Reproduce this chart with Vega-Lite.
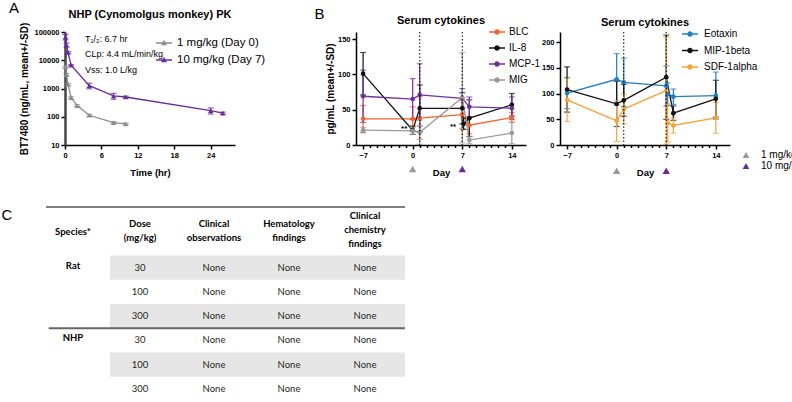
{
 "$schema": "https://vega.github.io/schema/vega-lite/v6.json",
 "background": "#ffffff",
 "padding": {"left": 1, "top": 1, "right": 2, "bottom": 0},
 "config": {
  "font": "Liberation Sans",
  "view": {"stroke": null},
  "axis": {"grid": false, "domainColor": "#000000", "domainWidth": 1.5, "tickColor": "#000000", "tickWidth": 1.5, "tickSize": 4, "labelFontWeight": "bold", "labelFontSize": 7.5, "labelColor": "#000000", "labelPadding": 2, "labelFlush": false, "labelOverlap": false, "labelBound": false, "titleFontWeight": "bold", "titleColor": "#000000"},
  "axisX": {"titleFontSize": 9.5, "titlePadding": 9},
  "axisY": {"titleFontSize": 10, "titlePadding": 2},
  "title": {"fontSize": 11, "fontWeight": "bold", "color": "#000000"},
  "legend": {"labelFontSize": 10, "labelColor": "#000000", "symbolOpacity": 1, "padding": 0}
 },
 "datasets": {
  "pk": [
   {"dose": "1 mg/kg (Day 0)", "t": 0.083, "c": 5860, "sd": 500},
   {"dose": "1 mg/kg (Day 0)", "t": 0.25, "c": 3130, "sd": 300},
   {"dose": "1 mg/kg (Day 0)", "t": 0.5, "c": 1390, "sd": 120},
   {"dose": "1 mg/kg (Day 0)", "t": 1, "c": 474, "sd": 40},
   {"dose": "1 mg/kg (Day 0)", "t": 2, "c": 248, "sd": 20},
   {"dose": "1 mg/kg (Day 0)", "t": 4, "c": 113, "sd": 10},
   {"dose": "1 mg/kg (Day 0)", "t": 8, "c": 62, "sd": 5},
   {"dose": "1 mg/kg (Day 0)", "t": 10, "c": 56, "sd": 4},
   {"dose": "10 mg/kg (Day 7)", "t": 0.083, "c": 66700, "sd": 14000},
   {"dose": "10 mg/kg (Day 7)", "t": 0.25, "c": 35000, "sd": 6000},
   {"dose": "10 mg/kg (Day 7)", "t": 0.5, "c": 18700, "sd": 1500},
   {"dose": "10 mg/kg (Day 7)", "t": 1, "c": 6670, "sd": 400},
   {"dose": "10 mg/kg (Day 7)", "t": 4, "c": 1256, "sd": 280},
   {"dose": "10 mg/kg (Day 7)", "t": 8, "c": 545, "sd": 130},
   {"dose": "10 mg/kg (Day 7)", "t": 10, "c": 500, "sd": 40},
   {"dose": "10 mg/kg (Day 7)", "t": 24, "c": 165, "sd": 40},
   {"dose": "10 mg/kg (Day 7)", "t": 26, "c": 134, "sd": 12}
  ],
  "cyto1": [
   {"cyto": "BLC", "day": -7, "mean": 37, "sd": 19},
   {"cyto": "BLC", "day": 0, "mean": 37, "sd": 17},
   {"cyto": "BLC", "day": 1, "mean": 38, "sd": 30},
   {"cyto": "BLC", "day": 7, "mean": 43, "sd": 20},
   {"cyto": "BLC", "day": 8, "mean": 28, "sd": 12},
   {"cyto": "BLC", "day": 14, "mean": 39, "sd": 7},
   {"cyto": "IL-8", "day": -7, "mean": 101, "sd": 30},
   {"cyto": "IL-8", "day": 0, "mean": 21, "sd": 6},
   {"cyto": "IL-8", "day": 1, "mean": 52, "sd": 33},
   {"cyto": "IL-8", "day": 7, "mean": 52, "sd": 22},
   {"cyto": "IL-8", "day": 7.2, "mean": 30, "sd": 8},
   {"cyto": "IL-8", "day": 8, "mean": 38, "sd": 26},
   {"cyto": "IL-8", "day": 14, "mean": 57, "sd": 16},
   {"cyto": "MCP-1", "day": -7, "mean": 69, "sd": 37},
   {"cyto": "MCP-1", "day": 0, "mean": 65, "sd": 29},
   {"cyto": "MCP-1", "day": 1, "mean": 71, "sd": 44},
   {"cyto": "MCP-1", "day": 7, "mean": 66, "sd": 14},
   {"cyto": "MCP-1", "day": 8, "mean": 54, "sd": 14},
   {"cyto": "MCP-1", "day": 14, "mean": 52, "sd": 16},
   {"cyto": "MIG", "day": -7, "mean": 21, "sd": 4},
   {"cyto": "MIG", "day": 0, "mean": 20, "sd": 5},
   {"cyto": "MIG", "day": 1, "mean": 18, "sd": 17},
   {"cyto": "MIG", "day": 7, "mean": 67, "sd": 64},
   {"cyto": "MIG", "day": 8, "mean": 7, "sd": 5},
   {"cyto": "MIG", "day": 14, "mean": 17, "sd": 15}
  ],
  "cyto2": [
   {"cyto": "Eotaxin", "day": -7, "mean": 101, "sd": 30},
   {"cyto": "Eotaxin", "day": 0, "mean": 128, "sd": 50},
   {"cyto": "Eotaxin", "day": 1, "mean": 122, "sd": 47},
   {"cyto": "Eotaxin", "day": 7, "mean": 115, "sd": 39},
   {"cyto": "Eotaxin", "day": 7.2, "mean": 99, "sd": 22},
   {"cyto": "Eotaxin", "day": 8, "mean": 94, "sd": 15},
   {"cyto": "Eotaxin", "day": 14, "mean": 96, "sd": 46},
   {"cyto": "MIP-1beta", "day": -7, "mean": 108, "sd": 44},
   {"cyto": "MIP-1beta", "day": 0, "mean": 80, "sd": 44},
   {"cyto": "MIP-1beta", "day": 1, "mean": 87, "sd": 31},
   {"cyto": "MIP-1beta", "day": 7, "mean": 132, "sd": 82},
   {"cyto": "MIP-1beta", "day": 8, "mean": 62, "sd": 14},
   {"cyto": "MIP-1beta", "day": 14, "mean": 90, "sd": 36},
   {"cyto": "SDF-1alpha", "day": -7, "mean": 88, "sd": 42},
   {"cyto": "SDF-1alpha", "day": 0, "mean": 47, "sd": 40},
   {"cyto": "SDF-1alpha", "day": 1, "mean": 70, "sd": 29},
   {"cyto": "SDF-1alpha", "day": 7, "mean": 106, "sd": 104},
   {"cyto": "SDF-1alpha", "day": 7.2, "mean": 43, "sd": 37},
   {"cyto": "SDF-1alpha", "day": 8, "mean": 38, "sd": 15},
   {"cyto": "SDF-1alpha", "day": 14, "mean": 53, "sd": 30}
  ],
  "doses": [
   {"day": 0, "dose": "1 mg/kg"},
   {"day": 7, "dose": "10 mg/kg"}
  ],
  "dotted": [{"day": 1}, {"day": 7}],
  "stars": [
   {"day": -1.2, "value": 22, "label": "**"},
   {"day": 5.7, "value": 25, "label": "**"}
  ],
  "shade": [{"row": 1}, {"row": 3}, {"row": 5}],
  "tblHeader1": [
   {"col": 0, "text": "Species*"}
  ],
  "tblHeader2": [
   {"col": 1, "text": "Dose\n(mg/kg)"},
   {"col": 2, "text": "Clinical\nobservations"},
   {"col": 3, "text": "Hematology\nfindings"}
  ],
  "tblHeader3": [
   {"col": 4, "text": "Clinical\nchemistry\nfindings"}
  ],
  "tblSpecies": [
   {"col": 0, "row": 1, "text": "Rat"},
   {"col": 0, "row": 4, "text": "NHP"}
  ],
  "tblBody": [
   {"col": 1, "row": 1, "text": "30"}, {"col": 2, "row": 1, "text": "None"}, {"col": 3, "row": 1, "text": "None"}, {"col": 4, "row": 1, "text": "None"},
   {"col": 1, "row": 2, "text": "100"}, {"col": 2, "row": 2, "text": "None"}, {"col": 3, "row": 2, "text": "None"}, {"col": 4, "row": 2, "text": "None"},
   {"col": 1, "row": 3, "text": "300"}, {"col": 2, "row": 3, "text": "None"}, {"col": 3, "row": 3, "text": "None"}, {"col": 4, "row": 3, "text": "None"},
   {"col": 1, "row": 4, "text": "30"}, {"col": 2, "row": 4, "text": "None"}, {"col": 3, "row": 4, "text": "None"}, {"col": 4, "row": 4, "text": "None"},
   {"col": 1, "row": 5, "text": "100"}, {"col": 2, "row": 5, "text": "None"}, {"col": 3, "row": 5, "text": "None"}, {"col": 4, "row": 5, "text": "None"},
   {"col": 1, "row": 6, "text": "300"}, {"col": 2, "row": 6, "text": "None"}, {"col": 3, "row": 6, "text": "None"}, {"col": 4, "row": 6, "text": "None"}
  ]
 },
 "vconcat": [
  {
   "hconcat": [
    {
     "title": {"text": "A", "orient": "left", "anchor": "end", "angle": 0, "align": "right", "baseline": "top", "frame": "bounds", "fontSize": 15, "fontWeight": "normal", "offset": 0, "dx": 9, "dy": -8},
     "hconcat": [
      {
       "width": 170, "height": 113,
       "title": {"text": "NHP (Cynomolgus monkey) PK", "offset": 2},
       "resolve": {"scale": {"color": "independent"}},
       "layer": [
        {
         "data": {"name": "pk"},
         "mark": {"type": "line", "strokeWidth": 1.3},
         "encoding": {
          "x": {"field": "t", "type": "quantitative", "title": "Time (hr)", "scale": {"domain": [0, 28]}, "axis": {"values": [0, 3, 6, 9, 12, 15, 18, 21, 24, 27], "labelExpr": "datum.value % 6 == 0 ? datum.label : ''", "labelOverlap": false, "tickSize": {"condition": {"test": "datum.value % 6 == 0", "value": 4}, "value": 2.5}}},
          "y": {"field": "c", "type": "quantitative", "title": "BT7480 (ng/mL, mean+/-SD)", "scale": {"type": "log", "domain": [10, 100000]}, "axis": {"titlePadding": 4, "labelPadding": 2, "values": [10, 100, 1000, 10000, 100000], "format": "d", "labelOverlap": false, "domainColor": "#444444", "domainWidth": 2.5}},
          "color": {"field": "dose", "type": "nominal", "scale": {"domain": ["1 mg/kg (Day 0)", "10 mg/kg (Day 7)"], "range": ["#8c8c8c", "#6a2c9a"]}, "legend": null}
         }
        },
        {
         "data": {"name": "pk"},
         "mark": {"type": "errorbar", "ticks": {"size": 6}, "thickness": 1.2},
         "encoding": {
          "x": {"field": "t", "type": "quantitative", "title": "Time (hr)"},
          "y": {"field": "c", "type": "quantitative", "title": "BT7480 (ng/mL, mean+/-SD)"},
          "yError": {"field": "sd"},
          "color": {"field": "dose", "type": "nominal", "scale": {"domain": ["1 mg/kg (Day 0)", "10 mg/kg (Day 7)"], "range": ["#8c8c8c", "#6a2c9a"]}, "legend": null}
         }
        },
        {
         "data": {"name": "pk"},
         "mark": {"type": "point", "shape": "triangle-up", "filled": true, "size": 28, "opacity": 1},
         "encoding": {
          "x": {"field": "t", "type": "quantitative", "title": "Time (hr)"},
          "y": {"field": "c", "type": "quantitative", "title": "BT7480 (ng/mL, mean+/-SD)"},
          "color": {"field": "dose", "type": "nominal", "scale": {"domain": ["1 mg/kg (Day 0)", "10 mg/kg (Day 7)"], "range": ["#8c8c8c", "#6a2c9a"]}, "legend": {"orient": "none", "legendX": 93, "legendY": 5, "title": null, "symbolType": "M-1.6,-0.14H1.6V0.14H-1.6Z M0,-0.65L0.6,0.45L-0.6,0.45Z", "symbolSize": 100, "labelFontSize": 11.5, "labelOffset": 7, "rowPadding": 5}}
         }
        },
        {
         "data": {"values": [{}]},
         "mark": {"type": "text", "align": "left", "baseline": "middle", "fontSize": 9, "color": "#000000"},
         "encoding": {"x": {"datum": 3.3, "type": "quantitative"}, "y": {"datum": 55000, "type": "quantitative"}, "text": {"value": "T₁/₂:  6.7 hr"}}
        },
        {
         "data": {"values": [{}]},
         "mark": {"type": "text", "align": "left", "baseline": "middle", "fontSize": 9, "color": "#000000"},
         "encoding": {"x": {"datum": 3.3, "type": "quantitative"}, "y": {"datum": 16500, "type": "quantitative"}, "text": {"value": "CLp: 4.4 mL/min/kg"}}
        },
        {
         "data": {"values": [{}]},
         "mark": {"type": "text", "align": "left", "baseline": "middle", "fontSize": 9, "color": "#000000"},
         "encoding": {"x": {"datum": 3.3, "type": "quantitative"}, "y": {"datum": 4600, "type": "quantitative"}, "text": {"value": "Vss: 1.0 L/kg"}}
        }
       ]
      }
     ]
    },
    {
     "title": {"text": "B", "orient": "left", "anchor": "end", "angle": 0, "align": "right", "baseline": "top", "frame": "bounds", "fontSize": 15, "fontWeight": "normal", "offset": 0, "dx": 9, "dy": -8},
     "spacing": 0,
     "hconcat": [
      {
       "width": 170, "height": 113,
       "title": {"text": "Serum cytokines", "offset": 0},
       "resolve": {"scale": {"color": "independent"}, "axis": {"x": "independent", "y": "independent"}},
       "layer": [
        {
         "data": {"name": "cyto1"},
         "mark": {"type": "line", "strokeWidth": 1.3},
         "encoding": {
          "x": {"field": "day", "type": "quantitative", "title": "Day", "scale": {"domain": [-8, 15]}, "axis": {"values": [-7, -6, -5, -4, -3, -2, -1, 0, 1, 2, 3, 4, 5, 6, 7, 8, 9, 10, 11, 12, 13, 14], "labelExpr": "datum.value % 7 == 0 ? datum.label : ''", "labelOverlap": false, "tickSize": {"condition": {"test": "datum.value % 7 == 0", "value": 4}, "value": 2.5}}},
          "y": {"field": "mean", "type": "quantitative", "title": "pg/mL (mean+/-SD)", "scale": {"domain": [0, 150]}, "axis": {"values": [0, 50, 100, 150], "labelOverlap": false}},
          "color": {"field": "cyto", "type": "nominal", "scale": {"domain": ["BLC", "IL-8", "MCP-1", "MIG"], "range": ["#f2612e", "#111111", "#7030a0", "#9a9a9a"]}, "legend": null}
         }
        },
        {
         "data": {"name": "cyto1"},
         "mark": {"type": "errorbar", "ticks": {"size": 6}, "thickness": 1.2},
         "encoding": {
          "x": {"field": "day", "type": "quantitative", "axis": null},
          "y": {"field": "mean", "type": "quantitative", "axis": null},
          "yError": {"field": "sd"},
          "color": {"field": "cyto", "type": "nominal", "scale": {"domain": ["BLC", "IL-8", "MCP-1", "MIG"], "range": ["#f2612e", "#111111", "#7030a0", "#9a9a9a"]}, "legend": null}
         }
        },
        {
         "data": {"name": "cyto1"},
         "mark": {"type": "point", "shape": "circle", "filled": true, "size": 22, "opacity": 1},
         "encoding": {
          "x": {"field": "day", "type": "quantitative", "axis": null},
          "y": {"field": "mean", "type": "quantitative", "axis": null},
          "color": {"field": "cyto", "type": "nominal", "scale": {"domain": ["BLC", "IL-8", "MCP-1", "MIG"], "range": ["#f2612e", "#111111", "#7030a0", "#9a9a9a"]}, "legend": {"orient": "none", "legendX": 135, "legendY": -6, "title": null, "symbolType": "M-1.6,-0.13H1.6V0.13H-1.6Z M0.55,0A0.55,0.55 0 1 1 -0.55,0A0.55,0.55 0 1 1 0.55,0Z", "symbolSize": 100, "labelOffset": 6, "rowPadding": 5}}
         }
        },
        {
         "data": {"name": "dotted"},
         "mark": {"type": "rule", "color": "#000000", "strokeDash": [1.5, 2], "strokeWidth": 1},
         "encoding": {
          "x": {"field": "day", "type": "quantitative", "axis": null}
         }
        },
        {
         "data": {"name": "doses"},
         "mark": {"type": "point", "shape": "triangle-up", "filled": true, "size": 55, "opacity": 1, "strokeWidth": 0},
         "encoding": {
          "x": {"field": "day", "type": "quantitative", "axis": null},
          "y": {"datum": -34, "type": "quantitative", "axis": null},
          "fill": {"field": "dose", "type": "nominal", "scale": {"domain": ["1 mg/kg", "10 mg/kg"], "range": ["#9a9a9a", "#6a2c9a"]}, "legend": null}
         }
        },
        {
         "data": {"name": "stars"},
         "mark": {"type": "text", "fontSize": 8, "fontWeight": "bold", "baseline": "middle", "color": "#000000"},
         "encoding": {
          "x": {"field": "day", "type": "quantitative", "axis": null},
          "y": {"field": "value", "type": "quantitative", "axis": null},
          "text": {"field": "label"}
         }
        }
       ]
      },
      {
       "width": 170, "height": 113,
       "title": {"text": "Serum cytokines", "offset": 0},
       "resolve": {"scale": {"color": "independent"}, "axis": {"x": "independent", "y": "independent"}},
       "layer": [
        {
         "data": {"name": "cyto2"},
         "mark": {"type": "line", "strokeWidth": 1.3},
         "encoding": {
          "x": {"field": "day", "type": "quantitative", "title": "Day", "scale": {"domain": [-8, 15]}, "axis": {"values": [-7, -6, -5, -4, -3, -2, -1, 0, 1, 2, 3, 4, 5, 6, 7, 8, 9, 10, 11, 12, 13, 14], "labelExpr": "datum.value % 7 == 0 ? datum.label : ''", "labelOverlap": false, "tickSize": {"condition": {"test": "datum.value % 7 == 0", "value": 4}, "value": 2.5}}},
          "y": {"field": "mean", "type": "quantitative", "title": null, "scale": {"domain": [0, 220]}, "axis": {"values": [0, 50, 100, 150, 200], "labelOverlap": false}},
          "color": {"field": "cyto", "type": "nominal", "scale": {"domain": ["Eotaxin", "MIP-1beta", "SDF-1alpha"], "range": ["#1e7ec8", "#111111", "#f7a23b"]}, "legend": null}
         }
        },
        {
         "data": {"name": "cyto2"},
         "mark": {"type": "errorbar", "ticks": {"size": 6}, "thickness": 1.2},
         "encoding": {
          "x": {"field": "day", "type": "quantitative", "axis": null},
          "y": {"field": "mean", "type": "quantitative", "axis": null},
          "yError": {"field": "sd"},
          "color": {"field": "cyto", "type": "nominal", "scale": {"domain": ["Eotaxin", "MIP-1beta", "SDF-1alpha"], "range": ["#1e7ec8", "#111111", "#f7a23b"]}, "legend": null}
         }
        },
        {
         "data": {"name": "cyto2"},
         "mark": {"type": "point", "shape": "circle", "filled": true, "size": 22, "opacity": 1},
         "encoding": {
          "x": {"field": "day", "type": "quantitative", "axis": null},
          "y": {"field": "mean", "type": "quantitative", "axis": null},
          "color": {"field": "cyto", "type": "nominal", "scale": {"domain": ["Eotaxin", "MIP-1beta", "SDF-1alpha"], "range": ["#1e7ec8", "#111111", "#f7a23b"]}, "legend": {"orient": "none", "legendX": 124, "legendY": -4, "title": null, "symbolType": "M-1.6,-0.13H1.6V0.13H-1.6Z M0.55,0A0.55,0.55 0 1 1 -0.55,0A0.55,0.55 0 1 1 0.55,0Z", "symbolSize": 100, "labelOffset": 8, "rowPadding": 5.5}}
         }
        },
        {
         "data": {"name": "dotted"},
         "mark": {"type": "rule", "color": "#000000", "strokeDash": [1.5, 2], "strokeWidth": 1},
         "encoding": {
          "x": {"field": "day", "type": "quantitative", "axis": null}
         }
        },
        {
         "data": {"name": "doses"},
         "mark": {"type": "point", "shape": "triangle-up", "filled": true, "size": 55, "opacity": 1, "strokeWidth": 0},
         "encoding": {
          "x": {"field": "day", "type": "quantitative", "axis": null},
          "y": {"datum": -50, "type": "quantitative", "axis": null},
          "color": {"field": "dose", "type": "nominal", "scale": {"domain": ["1 mg/kg", "10 mg/kg"], "range": ["#9a9a9a", "#6a2c9a"]}, "legend": {"orient": "none", "legendX": 181, "legendY": 118, "title": null, "symbolType": "triangle-up", "symbolSize": 45, "labelOffset": 10, "rowPadding": 1}}
         }
        }
       ]
      }
     ]
    }
   ],
   "spacing": 48
  },
  {
   "title": {"text": "C", "orient": "left", "anchor": "end", "angle": 0, "align": "right", "baseline": "top", "frame": "bounds", "fontSize": 15, "fontWeight": "normal", "offset": 22, "dy": 2},
   "hconcat": [
    {
     "width": 340, "height": 194,
     "layer": [
      {
       "data": {"name": "shade"},
       "mark": {"type": "bar", "orient": "horizontal", "color": "#e6e6e6", "size": 24.25},
       "encoding": {
        "y": {"field": "row", "type": "quantitative", "scale": {"domain": [-1.5, 6.5], "range": [0, 194], "nice": false, "zero": false, "padding": 0}, "axis": null},
        "x": {"datum": 0.5, "type": "quantitative", "scale": {"domain": [-0.5, 0, 0.5, 1, 2, 3, 4, 4.5], "range": [-19, 8, 45, 75, 149, 224, 300, 340], "nice": false, "zero": false, "padding": 0}, "axis": null},
        "x2": {"datum": 4.5}
       }
      },
      {
       "data": {"values": [{}]},
       "mark": {"type": "rule", "color": "#555555", "strokeWidth": 1.5},
       "encoding": {"x": {"datum": -0.5, "type": "quantitative"}, "x2": {"datum": 4.5}, "y": {"datum": -1.5, "type": "quantitative"}}
      },
      {
       "data": {"values": [{}]},
       "mark": {"type": "rule", "color": "#666666", "strokeWidth": 2},
       "encoding": {"x": {"datum": -0.45, "type": "quantitative"}, "x2": {"datum": 4.5}, "y": {"datum": 3.5, "type": "quantitative"}}
      },
      {
       "data": {"name": "tblHeader1"},
       "mark": {"type": "text", "font": "Lato", "fontSize": 9.5, "fontWeight": "bold", "baseline": "top", "dy": 20, "color": "#000000"},
       "encoding": {"x": {"field": "col", "type": "quantitative"}, "y": {"datum": -1.5, "type": "quantitative"}, "text": {"field": "text"}}
      },
      {
       "data": {"name": "tblHeader2"},
       "mark": {"type": "text", "font": "Lato", "fontSize": 9.5, "fontWeight": "bold", "lineBreak": "\n", "lineHeight": 14, "baseline": "top", "dy": 12, "color": "#000000"},
       "encoding": {"x": {"field": "col", "type": "quantitative"}, "y": {"datum": -1.5, "type": "quantitative"}, "text": {"field": "text"}}
      },
      {
       "data": {"name": "tblHeader3"},
       "mark": {"type": "text", "font": "Lato", "fontSize": 9.5, "fontWeight": "bold", "lineBreak": "\n", "lineHeight": 14, "baseline": "top", "dy": 4, "color": "#000000"},
       "encoding": {"x": {"field": "col", "type": "quantitative"}, "y": {"datum": -1.5, "type": "quantitative"}, "text": {"field": "text"}}
      },
      {
       "data": {"name": "tblSpecies"},
       "mark": {"type": "text", "font": "Lato", "fontSize": 9.5, "fontWeight": "bold", "baseline": "middle", "dy": -2, "color": "#000000"},
       "encoding": {"x": {"field": "col", "type": "quantitative"}, "y": {"field": "row", "type": "quantitative"}, "text": {"field": "text"}}
      },
      {
       "data": {"name": "tblBody"},
       "mark": {"type": "text", "font": "Lato", "fontSize": 9.5, "baseline": "middle", "color": "#262626"},
       "encoding": {"x": {"field": "col", "type": "quantitative"}, "y": {"field": "row", "type": "quantitative"}, "text": {"field": "text"}}
      }
     ]
    }
   ]
  }
 ],
 "spacing": 29
}
